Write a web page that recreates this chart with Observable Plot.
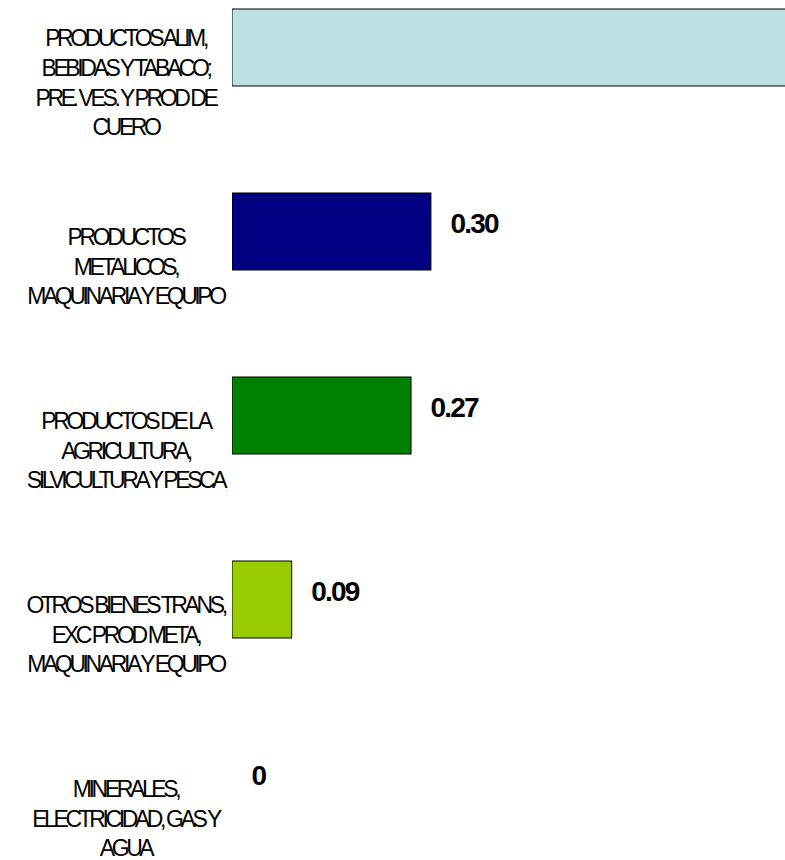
<!DOCTYPE html>
<html>
<head>
<meta charset="utf-8">
<script src="https://cdn.jsdelivr.net/npm/d3@7"></script>
<script src="https://cdn.jsdelivr.net/npm/@observablehq/plot@0.6"></script>
<style>
  html, body { margin: 0; padding: 0; background: #fff; }
  #chart svg { font-family: "Liberation Sans", Arial, sans-serif; overflow: hidden; }
</style>
</head>
<body>
<div id="chart"></div>
<script>
const categories = [
  "PRODUCTOS ALIM,\nBEBIDAS Y TABACO;\nPRE. VES. Y PROD DE\nCUERO",
  "PRODUCTOS\nMETALICOS,\nMAQUINARIA Y EQUIPO",
  "PRODUCTOS DE LA\nAGRICULTURA,\nSILVICULTURA Y PESCA",
  "OTROS BIENES TRANS,\nEXC PROD META,\nMAQUINARIA Y EQUIPO",
  "MINERALES,\nELECTRICIDAD, GAS Y\nAGUA"
];
const values = [0.93, 0.30, 0.27, 0.09, 0];
const colors = ["#BBE0E3", "#000080", "#008000", "#99CC00", "#999999"];

const data = categories.map((c, i) => ({cat: c, value: values[i], color: colors[i]}));
const fmt = v => v === 0 ? "0" : d3.format(".2f")(v);

const chart = Plot.plot({
  width: 785,
  height: 860,
  marginLeft: 232,
  marginRight: 0,
  marginTop: 0,
  marginBottom: 28,
  x: {domain: [0, 0.834], axis: null},
  y: {domain: categories, axis: null, paddingInner: 0.58, paddingOuter: 0.05},
  marks: [
    Plot.barX(data, {
      x: "value", y: "cat", fill: "color", stroke: "#000", strokeWidth: 1, clip: true
    }),
    Plot.text(data, {
      x: "value", y: "cat", text: d => fmt(d.value),
      textAnchor: "start", dx: 19, dy: -8,
      fontSize: 28, fontWeight: "bold", fill: "#000",
      clip: true
    }),
    Plot.text(data, {
      x: 0, y: "cat", text: "cat",
      textAnchor: "middle", dx: -107, dy: 33,
      fontSize: 23, lineHeight: 1.3, fill: "#000"
    })
  ]
});
d3.select(chart).selectAll("g[font-size]").each(function() {
  const g = d3.select(this);
  const fs = g.attr("font-size");
  if (fs === "23") g.style("letter-spacing", "-3.4px");
  else if (fs === "28") g.style("letter-spacing", "-1.8px");
});
document.getElementById("chart").appendChild(chart);
</script>
</body>
</html>
